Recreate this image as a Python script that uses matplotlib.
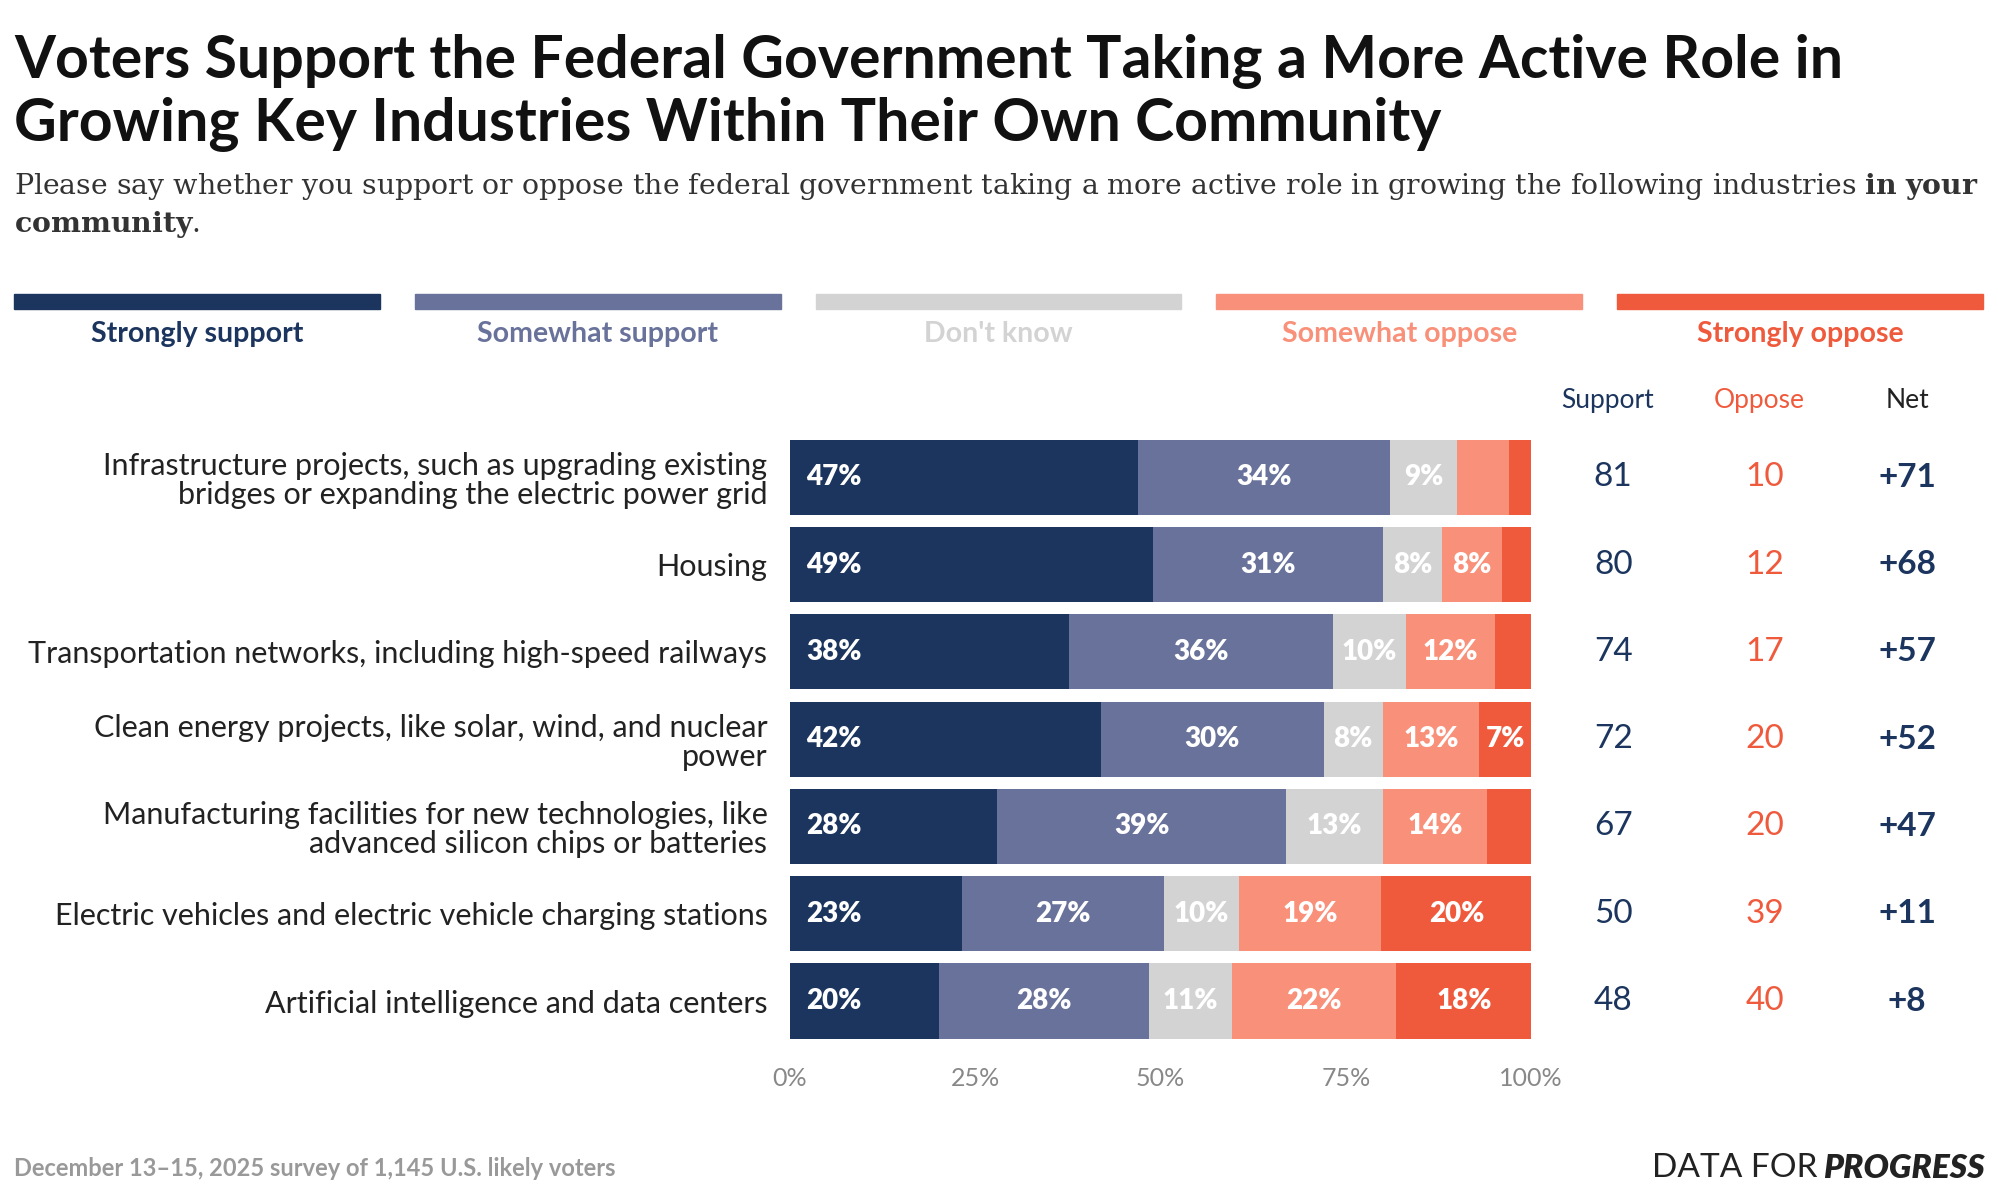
import matplotlib
matplotlib.use("Agg")
import matplotlib.pyplot as plt
import numpy as np
plt.rcParams['mathtext.fontset'] = 'dejavuserif'

categories = ["Infrastructure projects, such as upgrading existing\nbridges or expanding the electric power grid",
              "Housing",
              "Transportation networks, including high-speed railways",
              "Clean energy projects, like solar, wind, and nuclear\npower",
              "Manufacturing facilities for new technologies, like\nadvanced silicon chips or batteries",
              "Electric vehicles and electric vehicle charging stations",
              "Artificial intelligence and data centers"]
series_names = ["Strongly support", "Somewhat support", "Don't know", "Somewhat oppose", "Strongly oppose"]
strongly_support = [47, 49, 38, 42, 28, 23, 20]
somewhat_support = [34, 31, 36, 30, 39, 27, 28]
dont_know = [9, 8, 10, 8, 13, 10, 11]
somewhat_oppose = [7, 8, 12, 13, 14, 19, 22]
strongly_oppose = [3, 4, 5, 7, 6, 20, 18]
support = [81, 80, 74, 72, 67, 50, 48]
oppose = [10, 12, 17, 20, 20, 39, 40]
net = ["+71", "+68", "+57", "+52", "+47", "+11", "+8"]
ticks = [0, 25, 50, 75, 100]
hidden_labels = [(3, 0)]

colors = ["#1c355e", "#68729a", "#d3d3d3", "#f99079", "#f05a3c"]
F = "Lato"

fig = plt.figure(figsize=(19.99, 11.98), dpi=100)
fig.text(0.007, 0.972, "Voters Support the Federal Government Taking a More Active Role in\nGrowing Key Industries Within Their Own Community",
         fontsize=42.5, fontweight="bold", family=F, va="top", linespacing=1.2, color="#111")
fig.text(0.007, 0.857, "Please say whether you support or oppose the federal government taking a more active role in growing the following industries $\\bf{in\\ your}$\n$\\bf{community}$.",
         fontsize=20.4, family="DejaVu Serif", va="top", color="#333", linespacing=1.3)

for i, (n, c) in enumerate(zip(series_names, colors)):
    x0 = 0.007 + i * 0.2005
    fig.patches.append(plt.Rectangle((x0, 0.742), 0.183, 0.013, transform=fig.transFigure, color=c))
    fig.text(x0 + 0.0915, 0.721, n, ha="center", va="center", fontsize=20.5, fontweight="bold", family=F, color=c)

ax = fig.add_axes([0.395, 0.128, 0.371, 0.510])
raws = [strongly_support, somewhat_support, dont_know, somewhat_oppose, strongly_oppose]
data = np.array(raws, float)
data = data / data.sum(axis=0) * 100
y = np.arange(len(categories))
left = np.zeros(len(categories))
for k in range(5):
    ax.barh(y, data[k], left=left, color=colors[k], height=0.86)
    for j in range(len(categories)):
        if raws[k][j] >= 7 and (k, j) not in hidden_labels:
            if k == 0:
                ax.text(left[j] + 2.2, y[j], f"{raws[k][j]}%", va="center", ha="left", color="white", fontsize=20, fontweight="heavy", family=F)
            else:
                ax.text(left[j] + data[k][j] / 2, y[j], f"{raws[k][j]}%", va="center", ha="center", color="white", fontsize=20, fontweight="heavy", family=F)
    left += data[k]
ax.set_xlim(0, 100)
ax.set_ylim(len(categories) - 0.5, -0.5)
ax.set_yticks(y)
ax.set_yticklabels(categories, fontsize=22, family=F, color="#222", linespacing=1.05)
ax.set_xticks(ticks)
ax.set_xticklabels([f"{t}%" for t in ticks], fontsize=18, family=F, color="#888")
ax.tick_params(length=0, pad=16)
ax.tick_params(axis="y", pad=16)
for s in ax.spines.values():
    s.set_visible(False)

cols = [(0.804, support, "Support", "#1c355e", "normal"), (0.880, oppose, "Oppose", "#f05a3c", "normal"), (0.954, net, "Net", "#1c355e", "bold")]
for xc, vals, head, col, w in cols:
    fig.text(xc, 0.666, head, ha="center", va="center", fontsize=19, family=F, color=col if head != "Net" else "#222")
    for j, v in enumerate(vals):
        yy = ax.transData.transform((0, y[j]))[1] / fig.bbox.height
        fig.text(xc + (0.003 if head != "Net" else 0.0), yy, str(v), ha="center", va="center", fontsize=24, family=F, color=col, fontweight=w)

fig.text(0.007, 0.025, "December 13\u201315, 2025 survey of 1,145 U.S. likely voters", fontsize=17, fontweight="bold", family=F, color="#999", va="center")
t2 = fig.text(0.993, 0.025, "PROGRESS", fontsize=24, family=F, color="#222", ha="right", va="center", fontweight="heavy", style="italic")
r = fig.canvas.get_renderer()
bb = t2.get_window_extent(r)
fig.text(bb.x0 / fig.bbox.width - 0.003, 0.025, "DATA FOR", fontsize=24, family=F, color="#222", ha="right", va="center")
fig.savefig("out.png", dpi=100, facecolor="white")
